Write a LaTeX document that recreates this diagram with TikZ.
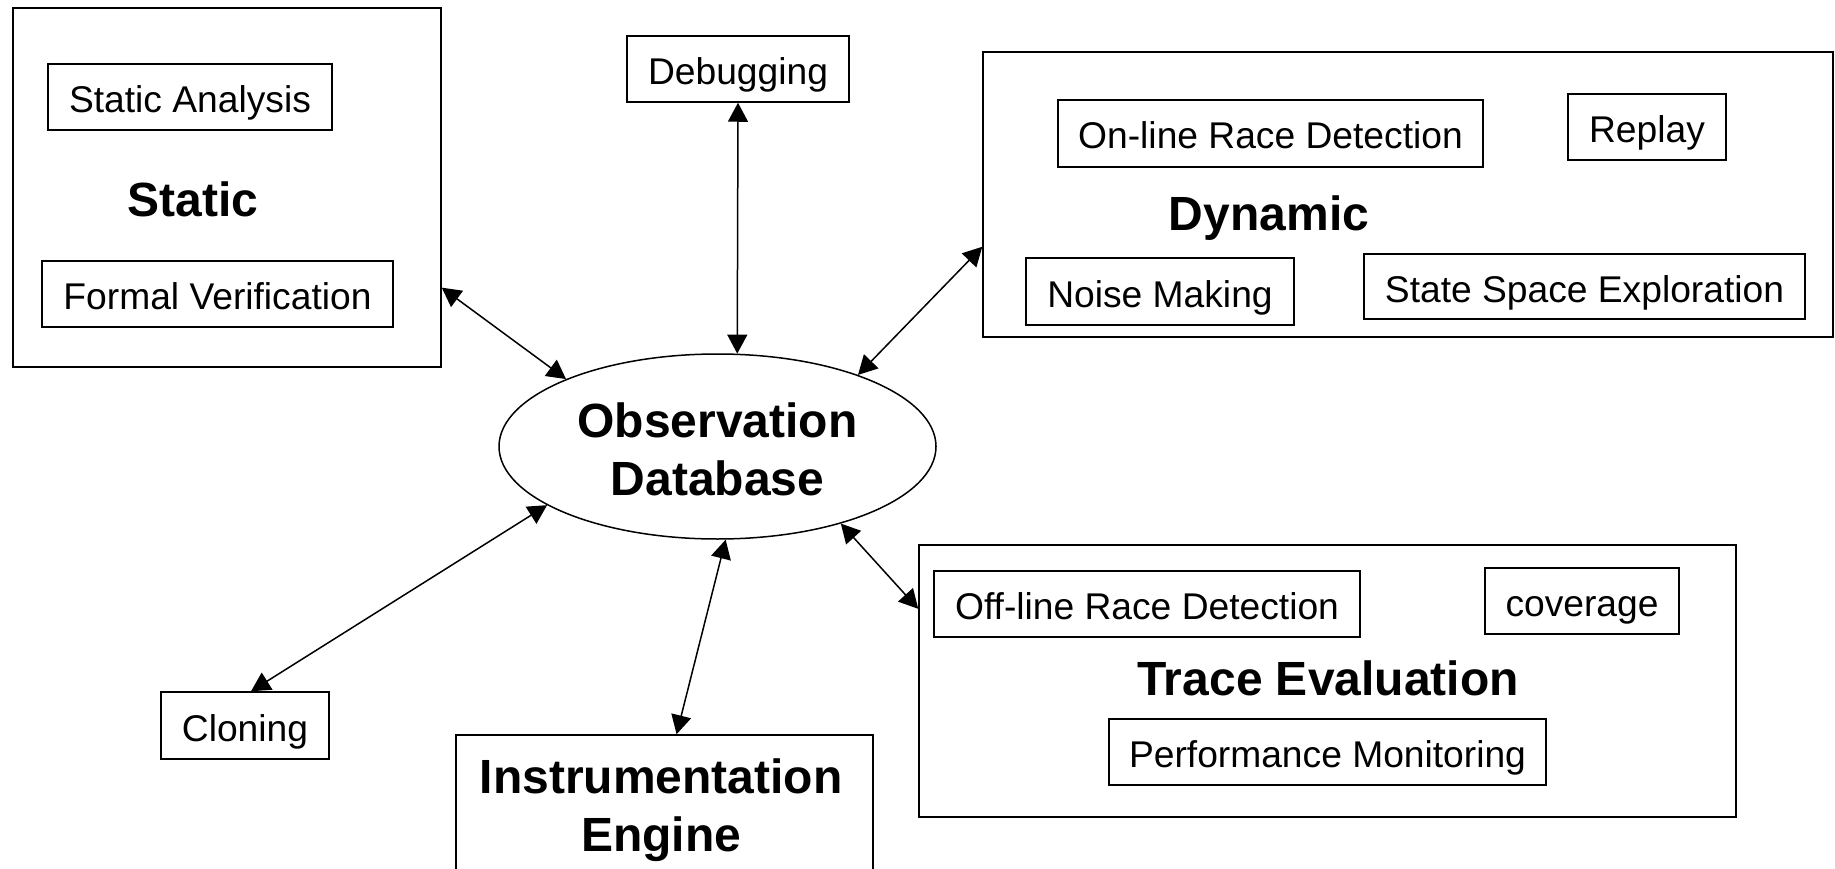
\documentclass[tikz,border=0pt]{standalone}
\usepackage{fontspec}
\setmainfont{Liberation Sans}
\usetikzlibrary{arrows.meta,shapes.geometric}
\begin{document}
\begin{tikzpicture}[x=1pt,y=-1pt,
  box/.style={draw, line width=1.5pt, rectangle, inner sep=0pt},
  lbl/.style={box, font=\fontsize{37.2}{44}\selectfont, text height=31pt, text depth=0pt},
  ttl/.style={font=\fontsize{48}{58}\selectfont\bfseries, inner sep=0pt, anchor=base},
  link/.style={line width=1.5pt, {Triangle[length=19pt,width=20pt]}-{Triangle[length=19pt,width=20pt]}}
]
\useasboundingbox (0,0) rectangle (1835,869);

% Static
\node[box, minimum width=428pt, minimum height=359pt] (st) at (227,187.5) {};
\node[lbl, minimum width=284pt, minimum height=66pt] (sta) at (190,97) {Static Analysis};
\node[ttl] (stt) at (193.3,216.7) {Static};
\node[lbl, minimum width=351pt, minimum height=66pt] (fv) at (217.5,294) {Formal Verification};

% Debugging
\node[lbl, minimum width=222pt, minimum height=66pt] (dbg) at (738,69) {Debugging};

% Dynamic
\node[box, minimum width=850pt, minimum height=285pt] (dyn) at (1408,194.5) {};
\node[lbl, minimum width=425pt, minimum height=67pt] (onl) at (1270.5,133.5) {On-line Race Detection};
\node[lbl, minimum width=158pt, minimum height=66pt] (rep) at (1647,127) {Replay};
\node[ttl] (dynt) at (1269,230) {Dynamic};
\node[lbl, minimum width=268pt, minimum height=67pt] (noi) at (1160,291.5) {Noise Making};
\node[lbl, minimum width=441pt, minimum height=65pt] (sse) at (1584.5,286.5) {State Space Exploration};

% Observation Database
\node[draw, ellipse, line width=1.5pt, minimum width=437pt, minimum height=185pt, inner sep=0pt,
      align=center, font=\fontsize{48}{58}\selectfont\bfseries] (db) at (717.5,446.5)
      {\rule{0pt}{40pt}Observation\\Database};

% Cloning
\node[lbl, minimum width=168pt, minimum height=67pt] (clo) at (245,725.5) {Cloning};

% Instrumentation Engine
\node[box, minimum width=417pt, minimum height=170pt] (ins) at (664.5,820) {};
\node[align=center, inner sep=0pt, font=\fontsize{48}{58}\selectfont\bfseries] (inst) at (661,809.8) {Instrumentation\\Engine};

% Trace Evaluation
\node[box, minimum width=817pt, minimum height=272pt] (trc) at (1327.5,681) {};
\node[lbl, minimum width=426pt, minimum height=66pt] (off) at (1147,604) {Off-line Race Detection};
\node[lbl, minimum width=194pt, minimum height=66pt] (cov) at (1582,601) {coverage};
\node[ttl] (trct) at (1328,695) {Trace Evaluation};
\node[lbl, minimum width=437pt, minimum height=66pt] (pm) at (1327.5,752) {Performance Monitoring};

% Connectors
\draw[link] (st.-25.5) -- (db.156.4);
\draw[link] (dbg.south) -- (db.78.3);
\draw[link] (dyn.187.3) -- (db.27);
\draw[link] (clo.80) -- (db.199.75);
\draw[link] (ins.82.3) -- (db.-85.8);
\draw[link] (trc.170.1) -- (db.-32.6);
\end{tikzpicture}
\end{document}
